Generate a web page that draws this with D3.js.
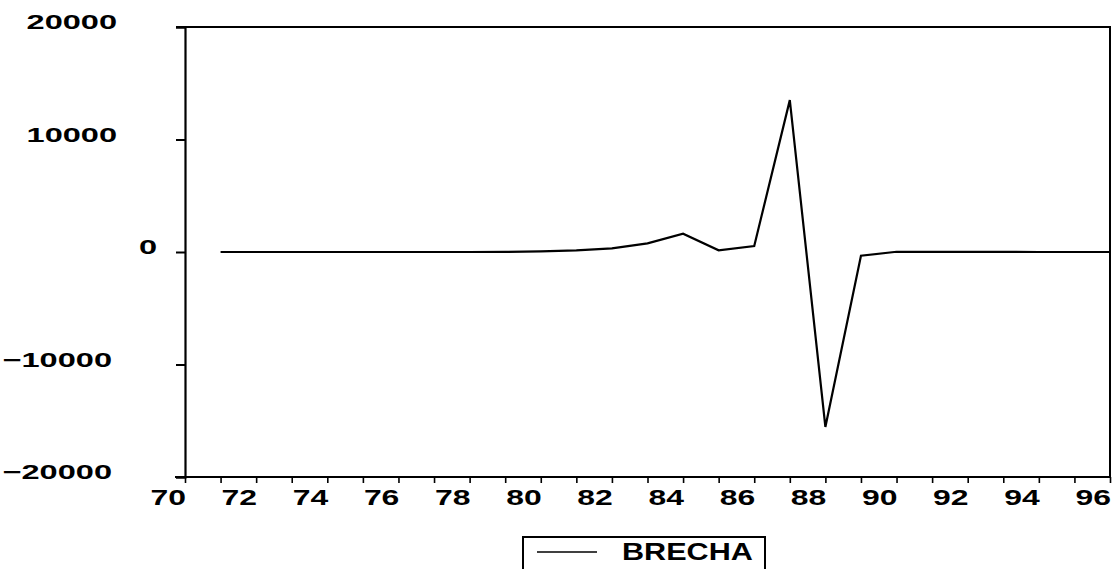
<!DOCTYPE html>
<html>
<head>
<meta charset="utf-8">
<script src="https://cdn.jsdelivr.net/npm/d3@7"></script>
<style>
  body { margin: 0; background: #fff; }
  svg text { font-family: "Liberation Sans", Arial, sans-serif; font-weight: bold; fill: #000; }
</style>
</head>
<body>
<div id="container"></div>
<script>
/* DATA */
const years = [1972, 1973, 1974, 1975, 1976, 1977, 1978, 1979, 1980, 1981, 1982, 1983, 1984,
  1985, 1986, 1987, 1988, 1989, 1990, 1991, 1992, 1993, 1994, 1995, 1996, 1997];
const brecha = [0, 0, 0, 0, 0, 0, 0, 0, 10, 60, 150, 320, 770,
  1630, 150, 530, 13500, -15550, -330, 20, 10, 5, 5, 0, 0, 0];
const yTicks = [20000, 10000, 0, -10000, -20000];
const xLabelYears = [1970, 1972, 1974, 1976, 1978, 1980, 1982, 1984, 1986, 1988, 1990, 1992, 1994, 1996];
const seriesName = "BRECHA";

/* CONSTANTS */
const width = 1112, height = 569;
const margin = { top: 27, right: 2, bottom: 92, left: 185 };
const yLabelStretch = 1.55, xLabelStretch = 1.45, legendStretch = 1.33;

const svg = d3.select("#container")
  .append("svg")
  .attr("width", width)
  .attr("height", height);

/* SCALES */
const xScale = d3.scaleLinear()
  .domain([1971, 1997])
  .range([margin.left, width - margin.right]);

const yScale = d3.scaleLinear()
  .domain([-20000, 20000])
  .range([height - margin.bottom, margin.top]);

const data = years.map((y, i) => ({ year: y, value: brecha[i] }));

// frame: top and right edges
svg.append("path")
  .attr("d", `M${margin.left - 9},${yScale(20000)}H${xScale(1997)}V${yScale(-20000)}`)
  .attr("fill", "none")
  .attr("stroke", "#000")
  .attr("stroke-width", 2);

// y axis
const yAxis = d3.axisLeft(yScale)
  .tickValues(yTicks)
  .tickSize(9)
  .tickFormat(d3.format("d"));

const gy = svg.append("g")
  .attr("transform", `translate(${margin.left},0)`)
  .call(yAxis);
gy.select(".domain").attr("stroke-width", 2.2);
gy.selectAll(".tick line").attr("stroke-width", 2);
gy.selectAll(".tick text")
  .attr("font-size", 21)
  .attr("font-family", null)
  .attr("transform", `scale(${yLabelStretch},1)`)
  .attr("x", d => -(d === 0 ? 28 : (d < 0 ? 73 : 68)) / yLabelStretch)
  .attr("dy", "1.5px");

// x axis: yearly ticks
const xAxis = d3.axisBottom(xScale)
  .tickValues(d3.range(1971, 1998))
  .tickSize(6)
  .tickSizeOuter(0)
  .tickFormat("");

const gx = svg.append("g")
  .attr("transform", `translate(0,${yScale(-20000)})`)
  .call(xAxis);
gx.select(".domain").attr("d", `M${margin.left - 10},0H${xScale(1997)}`).attr("stroke-width", 2.2);
gx.selectAll(".tick line").attr("stroke-width", 1.6);

// x labels (two-digit years, left aligned on their tick)
const xLabels = d3.axisBottom(xScale)
  .tickValues(xLabelYears)
  .tickSize(0)
  .tickFormat(d => String(d).slice(2));

const gxl = svg.append("g")
  .attr("transform", `translate(0,${yScale(-20000)})`)
  .call(xLabels);
gxl.select(".domain").remove();
gxl.selectAll(".tick text")
  .attr("font-size", 22)
  .attr("font-family", null)
  .attr("text-anchor", "start")
  .attr("transform", `scale(${xLabelStretch},1)`)
  .attr("x", 0.5 / xLabelStretch)
  .attr("y", 28)
  .attr("dy", 0);

// series line
const line = d3.line()
  .x(d => xScale(d.year))
  .y(d => yScale(d.value));

svg.append("path")
  .datum(data)
  .attr("fill", "none")
  .attr("stroke", "#000")
  .attr("stroke-width", 2.2)
  .attr("stroke-linejoin", "miter")
  .attr("d", line);

// legend
const legend = svg.append("g").attr("transform", "translate(523,537)");
legend.append("rect")
  .attr("width", 242)
  .attr("height", 60)
  .attr("fill", "none")
  .attr("stroke", "#000")
  .attr("stroke-width", 2);
legend.append("line")
  .attr("x1", 14).attr("x2", 74)
  .attr("y1", 15).attr("y2", 15)
  .attr("stroke", "#000")
  .attr("stroke-width", 1.6);
legend.append("text")
  .attr("transform", `translate(99,23) scale(${legendStretch},1)`)
  .attr("font-size", 23)
  .text(seriesName);
</script>
</body>
</html>
